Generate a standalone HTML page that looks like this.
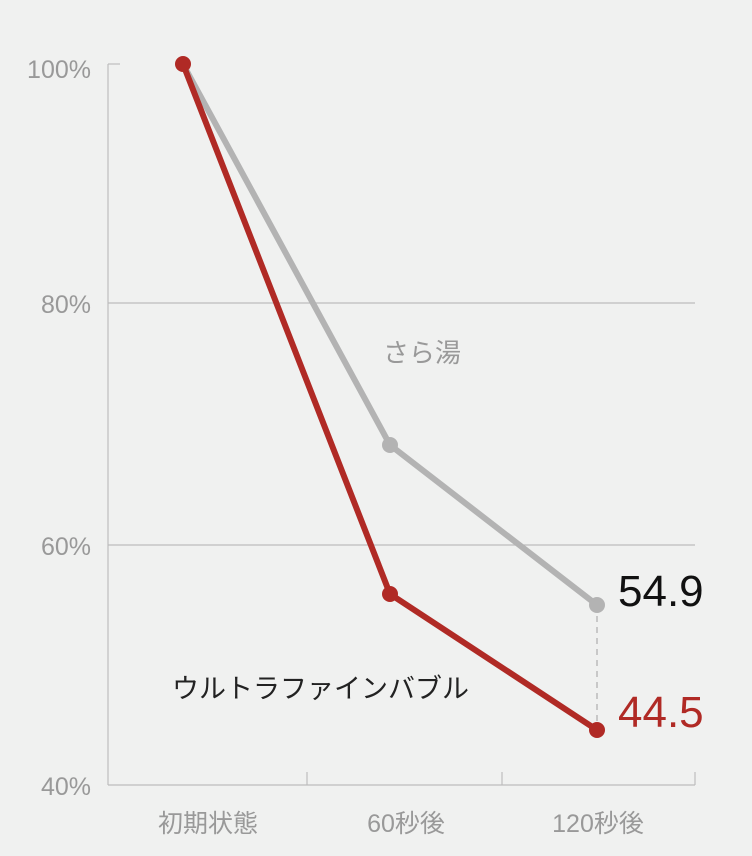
<!DOCTYPE html>
<html><head><meta charset="utf-8"><style>
html,body{margin:0;padding:0;background:#f0f1f0;}
svg{display:block;}
text{font-family:"Liberation Sans","Noto Sans CJK JP",sans-serif;}
</style></head><body>
<svg width="752" height="856" viewBox="0 0 752 856">
<rect width="752" height="856" fill="#f0f1f0"/>
<g stroke="#bdbdbd" stroke-width="1.2" fill="none">
<line x1="108" y1="64" x2="108" y2="785"/>
<line x1="108" y1="64" x2="120" y2="64"/>
<line x1="108" y1="303" x2="695" y2="303"/>
<line x1="108" y1="545" x2="695" y2="545"/>
<line x1="108" y1="785" x2="695" y2="785"/>
<line x1="307" y1="772" x2="307" y2="785"/>
<line x1="502" y1="772" x2="502" y2="785"/>
<line x1="695" y1="772" x2="695" y2="785"/>
</g>
<g fill="#999" font-size="25" text-anchor="end">
<text x="91" y="78">100%</text>
<text x="91" y="313">80%</text>
<text x="91" y="555">60%</text>
<text x="91" y="795">40%</text>
</g>
<g fill="#999" font-size="25" text-anchor="middle">
<text x="208" y="832">初期状態</text>
<text x="406" y="832">60秒後</text>
<text x="598" y="832">120秒後</text>
</g>
<line x1="597" y1="605" x2="597" y2="730" stroke="#bbb" stroke-width="1.5" stroke-dasharray="6,5"/>
<polyline points="183,64 390,445 597,605" fill="none" stroke="#b3b3b3" stroke-width="6" stroke-linejoin="round"/>
<g fill="#b3b3b3"><circle cx="390" cy="445" r="8"/><circle cx="597" cy="605" r="8"/></g>
<polyline points="183,64 390,594 597,730" fill="none" stroke="#b02a25" stroke-width="6" stroke-linejoin="round"/>
<g fill="#b02a25"><circle cx="183" cy="64" r="8"/><circle cx="390" cy="594" r="8"/><circle cx="597" cy="730" r="8"/></g>
<text x="383" y="362" font-size="26" fill="#999">さら湯</text>
<text x="172" y="698" font-size="27" fill="#222">ウルトラファインバブル</text>
<text x="618" y="606" font-size="44" fill="#111">54.9</text>
<text x="618" y="727" font-size="44" fill="#b02a25">44.5</text>
</svg>
</body></html>
